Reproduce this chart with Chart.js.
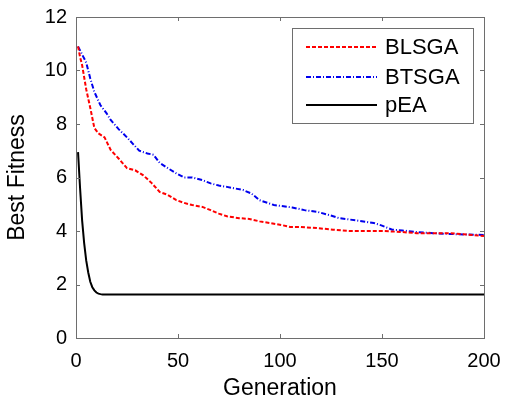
<!DOCTYPE html>
<html>
<head>
<meta charset="utf-8">
<script src="https://cdn.jsdelivr.net/npm/chart.js@4/dist/chart.umd.min.js"></script>
<style>
body{margin:0;background:#fff}
#wrap{width:506px;height:401px;position:relative}
</style>
</head>
<body>
<div id="wrap"><canvas id="fit"></canvas></div>
<script>
// values
let blsgaGen = [1,2,3,5,7,9,11,14,17,21,25,29,33,37,41,45,49,53,57,62,66,70,74,80,85,90,95,101,105,110,118,126,134,151,160,167,175,183,190,200];
let blsgaFit = [10.9,10.5,10.2,9.3,8.6,7.85,7.65,7.5,7.03,6.7,6.35,6.27,6.08,5.8,5.46,5.35,5.16,5.05,4.97,4.9,4.78,4.65,4.55,4.48,4.45,4.36,4.3,4.22,4.15,4.15,4.11,4.05,4.0,4.0,3.96,3.92,3.92,3.92,3.88,3.81];

let btsgaGen = [1,3,5,7,9,12,15,17,21,25,28,31,35,38,41,45,49,53,57,62,66,70,74,82,86,90,94,97,106,112,118,124,129,137,146,150,155,160,167,175,183,190,200];
let btsgaFit = [10.9,10.6,10.3,9.7,9.2,8.7,8.4,8.15,7.8,7.5,7.25,7.0,6.9,6.85,6.55,6.35,6.16,6.0,6.0,5.9,5.78,5.7,5.65,5.53,5.4,5.15,5.05,4.97,4.88,4.78,4.72,4.6,4.48,4.4,4.3,4.2,4.05,4.02,3.96,3.92,3.89,3.87,3.85];

let peaGen = [1,2,3,4,5,6,7,8,9,10,11,12,13,200];
let peaFit = [6.95,5.6,4.4,3.55,2.9,2.45,2.1,1.9,1.78,1.7,1.66,1.64,1.63,1.63];

let xTicks = [0,50,100,150,200];
let yTicks = [0,2,4,6,8,10,12];

let names = ['BLSGA','BTSGA','pEA'];
let colors = ['#ff0000','#0000ee','#000000'];
let dashes = [[4,2],[5,2,1,2],[]];

function pts(g,v){ return g.map((x,i)=>({x:x,y:v[i]})) }

let series = [pts(blsgaGen,blsgaFit), pts(btsgaGen,btsgaFit), pts(peaGen,peaFit)];

// box + inward ticks + legend like matlab
let matlabBox = {
  id:'matlabBox',
  afterDatasetsDraw(chart){
    let c = chart.ctx, a = chart.chartArea;
    let xs = chart.scales.x, ys = chart.scales.y;
    c.save();
    c.strokeStyle = '#6e6e6e';
    c.lineWidth = 1;
    c.setLineDash([]);
    c.strokeRect(a.left+0.5, a.top+0.5, a.right-a.left, a.bottom-a.top);
    c.beginPath();
    xTicks.forEach(t=>{
      let px = Math.round(xs.getPixelForValue(t))+0.5;
      c.moveTo(px,a.bottom); c.lineTo(px,a.bottom-4);
      c.moveTo(px,a.top); c.lineTo(px,a.top+4);
    });
    yTicks.forEach(t=>{
      let py = Math.round(ys.getPixelForValue(t))+0.5;
      c.moveTo(a.left,py); c.lineTo(a.left+4,py);
      c.moveTo(a.right,py); c.lineTo(a.right-4,py);
    });
    c.stroke();

    // legend
    let lx = 292, ly = 28, lw = 181, lh = 95;
    c.fillStyle = '#fff';
    c.fillRect(lx,ly,lw,lh);
    c.strokeRect(lx+0.5,ly+0.5,lw,lh);
    let rows = [47,77,105];
    c.font = '22px "Liberation Sans", Arial, sans-serif';
    c.textBaseline = 'middle';
    chart.data.datasets.forEach((ds,i)=>{
      c.strokeStyle = ds.borderColor;
      c.lineWidth = 2;
      c.setLineDash(ds.borderDash);
      c.beginPath();
      c.moveTo(306,rows[i]); c.lineTo(377,rows[i]);
      c.stroke();
      c.setLineDash([]);
      c.fillStyle = '#000';
      c.fillText(ds.label, 385, rows[i]+1);
    });
    c.restore();
  }
};

new Chart(document.getElementById('fit'), {
  type:'line',
  data:{
    datasets: names.map((n,i)=>({
      label:n,
      data:series[i],
      borderColor:colors[i],
      borderDash:dashes[i],
      borderWidth:2,
      pointRadius:0,
      tension:0,
      fill:false
    }))
  },
  options:{
    responsive:true,
    maintainAspectRatio:false,
    animation:false,
    layout:{padding:{top:17,right:22,bottom:0,left:0}},
    plugins:{legend:{display:false},tooltip:{enabled:false}},
    scales:{
      x:{
        type:'linear', min:0, max:200,
        afterBuildTicks: s=>{ s.ticks = xTicks.map(v=>({value:v})) },
        afterFit: s=>{ s.height = 63; s.paddingRight = 0; s.paddingLeft = 0 },
        grid:{display:false,drawTicks:false},
        border:{display:false},
        ticks:{color:'#000',padding:11,maxRotation:0,font:{family:'"Liberation Sans", Arial, sans-serif',size:20}},
        title:{display:true,text:'Generation',color:'#000',padding:{top:0,bottom:-1},font:{family:'"Liberation Sans", Arial, sans-serif',size:23}}
      },
      y:{
        min:0, max:12,
        afterBuildTicks: s=>{ s.ticks = yTicks.map(v=>({value:v})) },
        afterFit: s=>{ s.width = 76; s.paddingTop = 0; s.paddingBottom = 0 },
        grid:{display:false,drawTicks:false},
        border:{display:false},
        ticks:{color:'#000',padding:9,font:{family:'"Liberation Sans", Arial, sans-serif',size:20}},
        title:{display:true,text:'Best Fitness',color:'#000',padding:{top:4,bottom:0},font:{family:'"Liberation Sans", Arial, sans-serif',size:23}}
      }
    }
  },
  plugins:[matlabBox]
});
</script>
</body>
</html>
